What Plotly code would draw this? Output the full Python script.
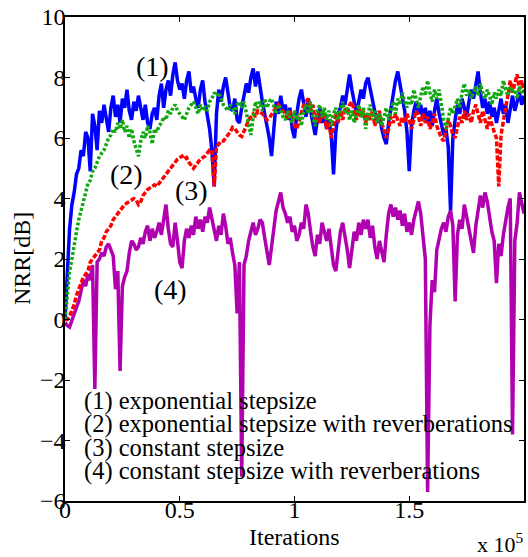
import plotly.graph_objects as go

# iterations grid (samples every 1000 iterations)
iterations = list(range(0, 200001, 1000))

# (1) exponential stepsize
nrr_exp = [
    0.0, 1.6, 3.0, 3.8, 4.2, 4.8, 5.0, 5.6, 5.4, 6.2,
    6.0, 4.9, 6.8, 6.4, 5.6, 6.9, 6.5, 7.1, 6.6, 6.2,
    7.0, 7.4, 6.7, 7.1, 6.5, 7.3, 7.0, 7.6, 6.9, 6.6,
    7.2, 6.9, 7.4, 7.0, 6.6, 7.1, 6.5, 6.3, 6.8, 7.0,
    6.6, 7.4, 7.8, 7.0, 7.6, 7.9, 7.4, 8.1, 8.5, 7.9,
    7.6, 7.8, 7.3, 7.9, 8.2, 7.5, 7.7, 7.3, 7.0, 7.6,
    7.9, 7.2, 6.8, 6.3, 5.6, 4.4, 6.8, 7.6, 7.2, 7.7,
    8.0, 7.4, 7.0, 6.9, 7.3, 6.6, 6.5, 7.0, 7.4, 7.8,
    7.5, 8.0, 8.3, 7.7, 8.2, 7.6, 7.2, 6.8, 6.4, 6.0,
    5.4, 6.5, 7.2, 6.8, 7.4, 6.9, 7.1, 6.6, 7.0, 6.3,
    6.0, 6.8, 7.3, 7.6, 7.1, 6.7, 7.3, 6.9, 6.4, 6.1,
    6.6, 7.0, 6.5, 6.8, 6.3, 6.6, 6.1, 4.8, 6.2, 6.8,
    7.0, 7.4, 7.1, 7.7, 8.1, 7.6, 7.2, 6.8, 7.2, 7.6,
    7.3, 7.8, 8.0, 7.6, 7.2, 6.9, 6.5, 6.8, 6.3, 6.0,
    5.8, 6.5, 7.0, 7.4, 7.9, 8.2, 7.8, 7.3, 6.9, 6.2,
    4.9, 6.4, 6.9, 7.2, 6.8, 7.1, 6.6, 7.0, 6.5, 6.9,
    6.4, 6.9, 7.3, 6.8, 6.4, 6.1, 6.3, 5.7, 3.6, 6.0,
    6.6, 7.1, 6.8, 7.3, 7.0, 6.7, 7.2, 7.6, 7.3, 7.8,
    8.2, 7.5, 7.0, 7.3, 6.8, 7.2, 6.7, 7.0, 6.5, 6.9,
    7.3, 6.8, 7.1, 6.5, 7.0, 7.4, 6.9, 7.2, 7.5, 7.1,
    7.4,
]

# (2) exponential stepsize with reverberations
nrr_exp_rev = [
    0.0, 0.7, 1.6, 2.0, 2.5, 2.9, 3.3, 3.6, 4.0, 4.3,
    4.5, 4.6, 4.9, 5.0, 5.2, 5.4, 5.5, 5.6, 5.8, 6.0,
    6.1, 6.3, 6.2, 6.5, 6.3, 6.6, 6.2, 6.4, 6.0, 6.3,
    5.9, 5.6, 5.4, 5.9, 6.2, 6.0, 6.4, 6.2, 5.8, 6.3,
    6.2, 6.4, 6.5, 6.7, 6.6, 6.9, 6.8, 7.0, 7.1, 6.9,
    6.8, 6.7, 6.6, 6.8, 7.0, 7.1, 7.2, 7.0, 6.8, 7.1,
    6.9, 7.0, 6.9, 7.2, 7.3, 7.5, 7.4, 7.5, 7.3, 7.1,
    7.0, 6.9, 7.1, 7.0, 6.8, 7.1, 7.2, 7.0, 7.2, 6.8,
    6.4, 6.1, 6.7, 7.2, 7.0, 7.2, 6.9, 7.3, 7.0, 7.2,
    7.3, 7.0, 6.8, 7.1, 6.9, 6.7, 6.6, 6.9, 6.7, 6.5,
    6.9, 6.6, 6.8, 6.4, 6.9, 7.1, 6.8, 7.2, 6.7, 6.4,
    6.9, 7.1, 6.7, 7.0, 6.6, 6.9, 6.4, 6.8, 7.0, 6.6,
    6.9, 7.2, 6.8, 7.0, 6.6, 6.9, 6.5, 6.8, 7.1, 6.7,
    7.0, 6.3, 6.8, 7.1, 6.6, 6.9, 6.5, 6.8, 6.4, 6.7,
    7.0, 6.6, 6.9, 7.2, 6.8, 7.3, 7.1, 7.5, 7.2, 7.0,
    7.4, 7.1, 7.6, 7.3, 7.0, 7.4, 7.7, 7.4, 7.9, 7.5,
    7.2, 7.6, 7.3, 7.6, 7.0, 6.6, 6.3, 6.7, 7.0, 6.8,
    7.1, 7.3, 7.0, 7.5, 7.8, 7.4, 7.6, 7.3, 7.5, 7.7,
    7.4, 7.8, 7.5, 7.3, 7.6, 7.4, 7.1, 7.5, 7.3, 7.6,
    7.4, 7.9, 7.6, 7.4, 7.7, 7.5, 7.6, 7.3, 7.7, 7.5,
    7.6,
]

# (3) constant stepsize
nrr_const = [
    0.0, 0.0, 0.1, 0.3, 0.5, 0.8, 1.0, 1.2, 1.4, 1.5,
    1.6, 1.9, 2.0, 2.1, 2.2, 2.3, 2.6, 2.7, 2.9, 3.0,
    3.1, 3.3, 3.4, 3.5, 3.6, 3.7, 3.8, 3.85, 3.9, 3.95,
    4.0, 3.95, 3.8, 3.9, 4.1, 4.2, 4.3, 4.35, 4.4, 4.45,
    4.4, 4.5, 4.6, 4.7, 4.8, 4.9, 5.0, 5.1, 5.2, 5.3,
    5.35, 5.4, 5.3, 5.35, 5.2, 5.1, 5.0, 5.1, 5.2, 5.3,
    5.35, 5.4, 5.5, 5.6, 5.6, 4.4, 5.7, 5.8, 5.9, 5.9,
    6.0, 6.1, 6.2, 6.35, 6.3, 6.2, 6.1, 6.05, 6.2, 6.4,
    6.6, 6.7, 6.8, 6.7, 6.9, 6.85, 6.8, 6.7, 6.6, 6.65,
    6.8, 6.9, 7.0, 7.1, 7.0, 6.9, 6.8, 6.6, 6.9, 6.7,
    6.4, 6.3, 6.6, 6.9, 7.1, 7.2, 7.3, 6.9, 7.1, 6.6,
    6.8, 6.5, 6.9, 6.7, 6.3, 6.5, 6.0, 6.4, 6.8, 6.5,
    6.9, 6.6, 7.0, 6.8, 7.1, 7.2, 6.9, 6.6, 7.0, 6.7,
    6.9, 6.5, 6.8, 6.6, 6.9, 6.4, 6.7, 6.9, 6.5, 6.2,
    6.0, 6.3, 6.7, 6.5, 6.8, 6.6, 6.4, 6.7, 6.5, 6.8,
    6.6, 6.3, 6.6, 6.9, 6.7, 6.4, 6.8, 6.5, 6.7, 6.3,
    6.5, 6.8, 6.4, 6.2, 6.0, 5.9, 6.3, 6.6, 6.4, 6.1,
    6.0, 6.4, 6.7, 6.5, 6.9, 6.6, 6.8, 6.5, 6.9, 7.1,
    6.8, 6.5, 6.9, 6.6, 6.3, 6.7, 6.4, 6.2, 6.0, 4.4,
    6.1, 6.6, 7.0, 7.4, 7.9, 7.5, 7.8, 8.1, 7.6, 7.9,
    7.5,
]

# (4) constant stepsize with reverberations
nrr_const_rev = [
    -0.1, -0.2, -0.25, 0.0, 0.2, 0.4, 0.6, 0.9, 1.3, 1.1,
    1.5, 1.3, 1.8, -2.3, 1.9, 2.0, 2.2, 2.1, 2.4, 2.5,
    2.3, 2.1, 1.0, 1.6, -1.7, 1.1, 1.4, 1.6, 2.2, 2.6,
    2.5, 2.3, 2.4, 2.7, 2.5, 2.9, 3.1, 2.6, 3.0, 2.7,
    2.9, 3.2, 2.8, 3.3, 3.8, 3.0, 2.5, 2.4, 3.2, 2.6,
    1.9, 1.7, 2.6, 3.0, 2.7, 3.1, 2.8, 3.4, 3.0, 3.3,
    2.9, 3.4, 3.2, 3.7, 3.3, 2.9, 2.6, 3.1, 2.8, 3.5,
    3.1, 2.5, 2.7, 2.2, 1.8, 0.2, 1.9, -5.2, 1.8, 2.1,
    2.6, 2.9, 3.2, 2.8, 3.0, 3.3, 3.2, 2.7, 2.2, 1.8,
    2.4, 3.0, 3.6, 3.9, 4.2, 3.7, 3.5, 3.2, 3.4, 2.9,
    3.1, 2.6, 2.8, 3.2, 3.0, 3.8, 3.5, 2.9, 2.4, 2.1,
    2.8, 2.5, 3.2, 2.9, 2.6, 3.0, 2.3, 1.8, 1.6, 2.4,
    2.9, 3.2, 2.8, 2.3, 1.7, 2.4, 2.9, 2.6, 3.2, 2.8,
    3.3, 3.0, 3.3, 2.7, 3.1, 2.4, 2.0, 2.6, 2.2, 1.9,
    2.8, 3.5, 3.8, 3.4, 3.7, 3.3, 3.6, 3.1, 3.5, 2.9,
    3.2, 2.8, 3.3, 3.6, 3.9, 3.5, 2.7, 2.0, -5.7, -0.2,
    1.3, 0.9, 2.3, 2.7, 3.0, 3.2, 2.9, 3.4, 3.6, 3.1,
    0.6, 2.8, 3.3, 3.0, 3.8, 3.4, 3.0, 2.6, 2.2, 3.1,
    3.6, 4.1, 3.7, 4.2, 3.9, 3.3, 2.9, 2.6, 1.2, 2.5,
    2.1, 2.8, 3.3, 3.7, 4.0, -3.8, 2.6, 3.2, 4.2, 3.8,
    3.5,
]

x_tickvals = [0, 50000, 100000, 150000, 200000]
x_ticktext = ["0", "0.5", "1", "1.5", "2"]
y_tickvals = [-6, -4, -2, 0, 2, 4, 6, 8, 10]

legend_lines = [
    "(1) exponential stepsize",
    "(2) exponential stepsize with reverberations",
    "(3) constant stepsize",
    "(4) constant stepsize with reverberations",
]

FONT = "Liberation Serif"

fig = go.Figure()
fig.add_trace(go.Scatter(x=iterations, y=nrr_exp, mode="lines",
                         line=dict(color="#0000ff", width=3.5)))
fig.add_trace(go.Scatter(x=iterations, y=nrr_const_rev, mode="lines",
                         line=dict(color="#b000b0", width=3.5)))
fig.add_trace(go.Scatter(x=iterations, y=nrr_const, mode="lines",
                         line=dict(color="#ff0000", width=3.5, dash="5px,2px")))
fig.add_trace(go.Scatter(x=iterations, y=nrr_exp_rev, mode="lines",
                         line=dict(color="#12a812", width=3.5, dash="3px,2px")))

axis_common = dict(
    showgrid=False, zeroline=False, showline=True, linecolor="black",
    linewidth=1.5, mirror="ticks", ticks="inside", ticklen=5,
    tickcolor="black", tickwidth=1,
    tickfont=dict(family=FONT, size=24, color="black"),
)
fig.update_xaxes(range=[0, 200000], tickvals=x_tickvals, ticktext=x_ticktext,
                 ticklabelstandoff=-14, **axis_common)
fig.update_yaxes(range=[-6, 10], tickvals=y_tickvals, ticklabelstandoff=-7,
                 **axis_common)

annos = []
# curve labels
for txt, xv, yv in [("(1)", 38000, 8.35), ("(2)", 27000, 4.8),
                    ("(3)", 55000, 4.25), ("(4)", 46000, 1.0)]:
    annos.append(dict(x=xv, y=yv, xref="x", yref="y", text=txt,
                      showarrow=False, xanchor="center", yanchor="middle",
                      font=dict(family=FONT, size=28, color="black")))
# legend-like text block
for k, (line, ypx) in enumerate(zip(legend_lines, [401, 424, 448, 471])):
    yv = 10 - (ypx - 16.7) / 30.25
    annos.append(dict(x=7500, y=yv, xref="x", yref="y", text=line,
                      showarrow=False, xanchor="left", yanchor="middle",
                      font=dict(family=FONT, size=24.5, color="black")))
# axis titles
annos.append(dict(x=0.5, y=0, xref="paper", yref="paper", text="Iterations",
                  showarrow=False, xanchor="center", yanchor="top", yshift=-21,
                  font=dict(family=FONT, size=24, color="black")))
annos.append(dict(x=0, y=0.5, xref="paper", yref="paper", text="NRR[dB]",
                  showarrow=False, xanchor="center", yanchor="middle",
                  textangle=-90, xshift=-43,
                  font=dict(family=FONT, size=24, color="black")))
annos.append(dict(x=1, y=0, xref="paper", yref="paper", text="x 10<sup>5</sup>",
                  showarrow=False, xanchor="right", yanchor="bottom", yshift=-58,
                  xshift=2,
                  font=dict(family=FONT, size=22, color="black")))

fig.update_layout(
    width=528, height=557,
    margin=dict(l=65, r=2, t=17, b=56),
    paper_bgcolor="white", plot_bgcolor="white",
    showlegend=False,
    annotations=annos,
)

fig.write_html("out.html")
